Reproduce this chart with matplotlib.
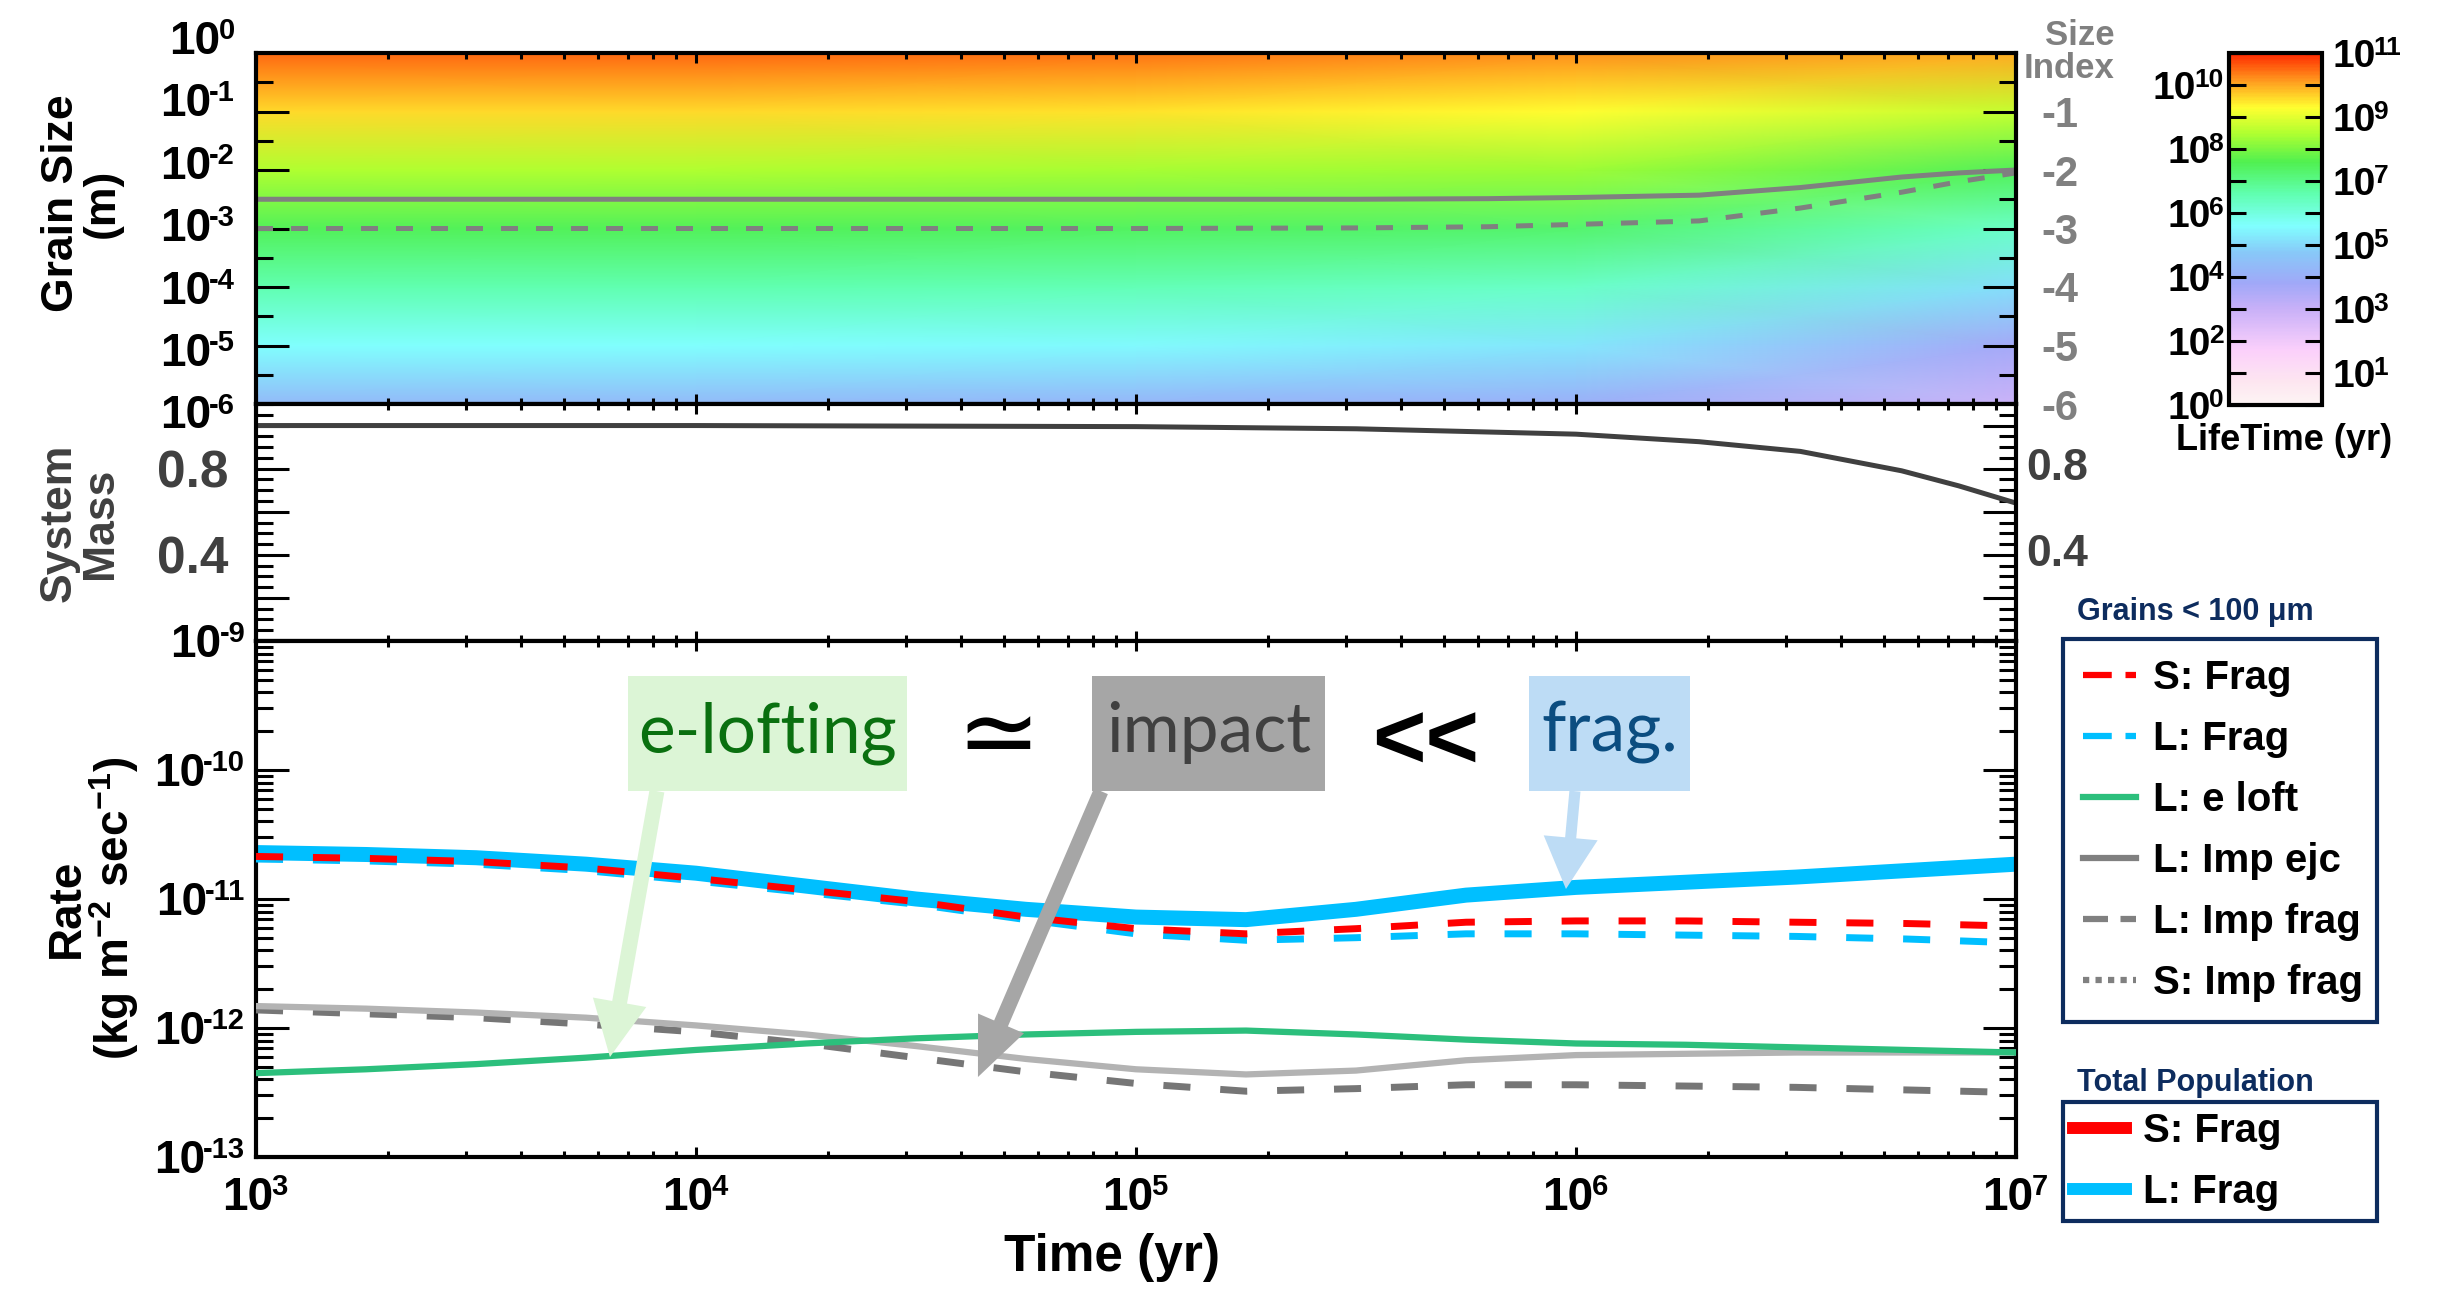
import matplotlib.pyplot as plt
import numpy as np
from matplotlib.colors import LinearSegmentedColormap, Normalize
from matplotlib.lines import Line2D
from matplotlib.patches import Rectangle
from matplotlib.transforms import offset_copy
from matplotlib.ticker import FixedLocator, LogLocator, FuncFormatter, MultipleLocator

plt.rcParams['font.family'] = ['Liberation Sans', 'DejaVu Sans']
plt.rcParams['font.weight'] = 'bold'
plt.rcParams['mathtext.fontset'] = 'custom'
plt.rcParams['mathtext.rm'] = 'Liberation Sans:bold'
plt.rcParams['mathtext.it'] = 'Liberation Sans:bold'
plt.rcParams['mathtext.bf'] = 'Liberation Sans:bold'
plt.rcParams['mathtext.sf'] = 'Liberation Sans:bold'

# ---- values ----
# grain lifetime map, log10(yr), rows = time, cols = size index
map_logt = [3, 4, 5, 6, 7]
map_index = [-6, -5, -4, -3, -2, -1, 0]
map_loglife = [
    [4.3, 5.6, 6.6, 7.5, 8.5, 9.6, 10.5],
    [4.3, 5.6, 6.6, 7.5, 8.5, 9.6, 10.5],
    [4.2, 5.5, 6.5, 7.4, 8.4, 9.5, 10.4],
    [4.0, 5.2, 6.3, 7.3, 8.3, 9.3, 10.2],
    [2.9, 3.7, 5.1, 6.3, 7.5, 8.7, 10.0],
]

size_logt = [3, 4, 5, 5.5, 5.8, 6.0, 6.28, 6.51, 6.74, 6.87, 7.0]
size_large = [-2.5, -2.5, -2.5, -2.5, -2.49, -2.47, -2.43, -2.30, -2.12, -2.05, -2.0]
size_small = [-3.0, -3.0, -3.0, -2.99, -2.97, -2.93, -2.87, -2.65, -2.38, -2.2, -2.05]

mass_logt = [3, 4, 5, 5.5, 6.0, 6.28, 6.51, 6.74, 6.87, 7.0]
mass = [1.0, 1.0, 0.995, 0.985, 0.96, 0.925, 0.88, 0.79, 0.72, 0.64]

rate_logt = [3, 3.25, 3.5, 3.75, 4, 4.25, 4.5, 4.75, 5, 5.25, 5.5, 5.75, 6, 6.25, 6.5, 6.75, 7]
tot_l_frag = [-10.64, -10.655, -10.68, -10.73, -10.80, -10.90, -11.00, -11.08, -11.14, -11.16, -11.08,
              -10.97, -10.91, -10.87, -10.83, -10.78, -10.73]
s_frag = [-10.67, -10.685, -10.71, -10.76, -10.84, -10.93, -11.02, -11.14, -11.23, -11.27, -11.23,
          -11.18, -11.17, -11.17, -11.18, -11.19, -11.21]
l_frag = [-10.69, -10.705, -10.73, -10.78, -10.86, -10.95, -11.04, -11.16, -11.27, -11.32, -11.30,
          -11.27, -11.27, -11.28, -11.29, -11.31, -11.34]
l_eloft = [-12.35, -12.32, -12.28, -12.23, -12.17, -12.12, -12.08, -12.05, -12.03, -12.02, -12.05,
           -12.09, -12.12, -12.13, -12.15, -12.17, -12.19]
l_imp_ejc = [-11.83, -11.85, -11.88, -11.92, -11.98, -12.05, -12.14, -12.24, -12.32, -12.36, -12.33,
             -12.25, -12.21, -12.20, -12.19, -12.19, -12.19]
l_imp_frag = [-11.86, -11.89, -11.92, -11.97, -12.03, -12.12, -12.23, -12.34, -12.43, -12.49, -12.47,
              -12.44, -12.44, -12.45, -12.46, -12.48, -12.50]

size_exps = [0, -1, -2, -3, -4, -5, -6]
time_exps = [3, 4, 5, 6, 7]
rate_exps = [-9, -10, -11, -12, -13]
life_exps = list(range(12))
legend1_labels = ['S: Frag', 'L: Frag', 'L: e loft', 'L: Imp ejc', 'L: Imp frag', 'S: Imp frag']
legend2_labels = ['S: Frag', 'L: Frag']

# colour table of the lifetime bar
cm_pos = [0, 0.7, 1.7, 3.0, 3.8, 4.75, 5.6, 6.6, 7.6, 8.5, 9.3, 10.1, 11]
cm_col = ['#fdf4f4', '#fde6f0', '#fbd0fb', '#c8b0f8', '#a0a8f8', '#88c8f8', '#80ffff',
          '#60ffb0', '#50f050', '#b0ff30', '#ffff30', '#ffa020', '#ff2800']
cmap = LinearSegmentedColormap.from_list('life', list(zip(np.array(cm_pos) / 11, cm_col)))

W, H = 2454, 1291


def box(l, t, r, b):
    return [l / W, 1 - b / H, (r - l) / W, (b - t) / H]


fig = plt.figure(figsize=(24.54, 12.91), dpi=100)
renderer = fig.canvas.get_renderer()
PX = fig.dpi / 72.0


def pow10(ax, x, y, exp, trans, size, sup_size, ha='right', color='black'):
    # "10" with a raised exponent, aligned as one label at (x, y)
    base = ax.text(x, y, '10', transform=trans, fontsize=size, ha='left', va='baseline', color=color, clip_on=False)
    sup = ax.text(x, y, str(exp), transform=trans, fontsize=sup_size, ha='left', va='baseline', color=color,
                  clip_on=False)
    wb = base.get_window_extent(renderer).width
    ws = sup.get_window_extent(renderer).width
    total = wb + ws
    x0 = {'right': -total, 'center': -total / 2, 'left': 0}[ha]
    hb = 0.716 * size * PX
    hs = 0.716 * sup_size * PX
    yb = -hb / 2
    ys = yb + hb - hs + 3
    base.set_transform(offset_copy(trans, fig=fig, x=x0, y=yb, units='dots'))
    sup.set_transform(offset_copy(trans, fig=fig, x=x0 + wb - 2, y=ys, units='dots'))


ax_map = fig.add_axes(box(256, 53, 2016, 404))
ax_mass = fig.add_axes(box(256, 404, 2016, 641))
ax_rate = fig.add_axes(box(256, 641, 2016, 1157))
cax = fig.add_axes(box(2229, 53, 2322, 405))

for ax in (ax_map, ax_mass, ax_rate):
    ax.set_xscale('log')
    ax.set_xlim(1e3, 1e7)
    for s in ax.spines.values():
        s.set_linewidth(3)
    ax.xaxis.set_major_locator(LogLocator(base=10, numticks=10))
    ax.xaxis.set_minor_locator(LogLocator(base=10, subs=np.arange(2, 10), numticks=20))
    ax.tick_params(axis='x', which='major', direction='in', top=True, bottom=True, length=7, width=2.2)
    ax.tick_params(axis='x', which='minor', direction='in', top=True, bottom=True, length=4, width=2.2)
    ax.tick_params(axis='y', which='major', direction='in', left=True, right=True, length=24, width=2.2)
    ax.tick_params(axis='y', which='minor', direction='in', left=True, right=True, length=12, width=2.2)
    ax.tick_params(axis='x', which='both', labelbottom=False)

# ---- top: lifetime map ----
T, I = np.meshgrid(10.0 ** np.array(map_logt), map_index)
mesh = ax_map.pcolormesh(T, I, np.array(map_loglife).T, shading='gouraud', cmap=cmap, norm=Normalize(0, 11))
ax_map.plot(10.0 ** np.array(size_logt), size_large, color='#808080', lw=3.6)
ax_map.plot(10.0 ** np.array(size_logt), size_small, color='#808080', lw=3.6, dashes=(3.4, 3.6))
ax_map.set_ylim(-6, 0)
ax_map.yaxis.set_major_locator(FixedLocator([-6, -5, -4, -3, -2, -1]))
ax_map.yaxis.set_minor_locator(FixedLocator(np.arange(-5.5, 0, 1.0)))
ax_map.yaxis.set_major_formatter(FuncFormatter(lambda v, p: f'{int(round(v))}'))
ax_map.tick_params(labelleft=False, labelright=True)
ax_map.tick_params(axis='y', labelsize=30, labelcolor='#808080', pad=18)
ypos = np.linspace(1.045, -0.023, len(size_exps))
for e, yy in zip(size_exps, ypos):
    pow10(ax_map, -0.011, yy, e, ax_map.transAxes, 33, 21, ha='right')
fig.text(2115 / W, 1 - 52 / H, 'Size\nIndex', ha='right', va='center', fontsize=25,
         color='#808080', linespacing=1.0, multialignment='right')

# ---- colour bar ----
cb = fig.colorbar(mesh, cax=cax)
cb.outline.set_linewidth(3)
cb.set_ticks(life_exps)
cax.minorticks_off()
cax.tick_params(axis='y', which='major', direction='in', left=True, right=True, length=12, width=2.2,
                labelleft=False, labelright=False)
for v in life_exps:
    if v % 2:
        pow10(cax, 1.11, v, v, cax.get_yaxis_transform(), 28, 19, ha='left')
    else:
        pow10(cax, -0.04, v, v, cax.get_yaxis_transform(), 28, 19, ha='right')
fig.text(2284 / W, 1 - 440 / H, 'LifeTime (yr)', ha='center', va='center', fontsize=26)

# ---- middle: system mass ----
ax_mass.plot(10.0 ** np.array(mass_logt), mass, color='#404040', lw=3.6)
ax_mass.set_ylim(0, 1.1)
ax_mass.yaxis.set_major_locator(MultipleLocator(0.2))
ax_mass.yaxis.set_minor_locator(MultipleLocator(0.05))
ax_mass.yaxis.set_major_formatter(FuncFormatter(lambda v, p: f'{v:.1f}' if round(v, 2) in (0.4, 0.8) else ''))
ax_mass.tick_params(axis='y', labelsize=37, labelcolor='#404040', pad=20)
for v in (0.8, 0.4):
    ax_mass.text(1.006, v, f'{v:.1f}', transform=ax_mass.get_yaxis_transform(), ha='left', va='center',
                 fontsize=32, color='#404040')

# ---- bottom: rates ----
t = 10.0 ** np.array(rate_logt)
ax_rate.plot(t, 10.0 ** np.array(tot_l_frag), color='#00bfff', lw=10.8, zorder=2, solid_joinstyle='round')
ax_rate.plot(t, 10.0 ** np.array(l_frag), color='#00bfff', lw=5, dashes=(3.9, 4.3), zorder=3)
ax_rate.plot(t, 10.0 ** np.array(s_frag), color='#ff0000', lw=5, dashes=(3.9, 4.3), zorder=3)
ax_rate.plot(t, 10.0 ** np.array(l_imp_frag), color='#767676', lw=5, dashes=(3.9, 4.3), zorder=3)
ax_rate.plot(t, 10.0 ** np.array(l_imp_ejc), color='#b3b3b3', lw=4.5, zorder=3)
ax_rate.plot(t, 10.0 ** np.array(l_eloft), color='#2cbf7c', lw=4.5, zorder=3)
ax_rate.set_yscale('log')
ax_rate.set_ylim(1e-13, 1e-9)
ax_rate.yaxis.set_major_locator(LogLocator(base=10, numticks=10))
ax_rate.yaxis.set_minor_locator(LogLocator(base=10, subs=np.arange(2, 10), numticks=50))
ax_rate.tick_params(axis='y', which='both', labelleft=False)
for e in rate_exps:
    pow10(ax_rate, -0.005, 10.0 ** e, e, ax_rate.get_yaxis_transform(), 33, 21, ha='right')
for e in time_exps:
    pow10(ax_rate, 10.0 ** e, -0.07, e, ax_rate.get_xaxis_transform(), 33, 21, ha='center')

# annotation boxes and arrows
notes = [
    ('e-lofting', 0.2114, 0.1585, '#dcf5d6', '#0a7010'),
    ('impact', 0.475, 0.1324, '#a6a6a6', '#404040'),
    ('frag.', 0.7233, 0.0915, '#bddcf5', '#0b4d80'),
]
for txt, x0, w, fc, tc in notes:
    ax_rate.add_patch(Rectangle((x0, 0.709), w, 0.223, transform=ax_rate.transAxes, fc=fc, ec='none', zorder=5))
    ax_rate.text(x0 + w / 2, 0.822, txt, transform=ax_rate.transAxes, ha='center', va='center',
                 fontsize=50, color=tc, family=['Lato', 'DejaVu Sans'], fontweight='normal', zorder=7)
ax_rate.text(0.4216, 0.812, '\u2243', transform=ax_rate.transAxes, ha='center', va='center', fontsize=72,
             color='black', family=['DejaVu Sans'], fontweight='normal', zorder=7)
ax_rate.text(0.6648, 0.800, '<<', transform=ax_rate.transAxes, ha='center', va='center', fontsize=66,
             color='black', zorder=7)

arrows = [
    ((0.2278, 0.709), (0.2011, 0.1938), '#dcf5d6', 40, 39, 10.8),
    ((0.4801, 0.709), (0.4102, 0.155), '#a6a6a6', 42, 36, 10.8),
    ((0.7494, 0.709), (0.7443, 0.5194), '#bddcf5', 37, 39, 8),
]
for start, tip, col, hl, hw, tw in arrows:
    ax_rate.annotate('', xy=tip, xytext=start, xycoords='axes fraction', textcoords='axes fraction',
                     arrowprops=dict(arrowstyle=f'simple,head_length={hl},head_width={hw},tail_width={tw}',
                                     mutation_scale=1, shrinkA=0, shrinkB=0, fc=col, ec='none'),
                     zorder=6)

# ---- axis labels ----
fig.text(82 / W, 1 - 203 / H, 'Grain Size\n(m)', rotation=90, ha='center', va='center', fontsize=32,
         linespacing=1.0, multialignment='center')
fig.text(80 / W, 1 - 523 / H, 'System\nMass', rotation=90, ha='center', va='center', fontsize=32,
         linespacing=1.0, multialignment='center', color='#404040')
fig.text(93 / W, 1 - 908 / H, 'Rate\n(kg m$^{-2}$ sec$^{-1}$)', rotation=90, ha='center', va='center',
         fontsize=33, linespacing=0.95, multialignment='center')
fig.text(1112 / W, 1 - 1258 / H, 'Time (yr)', ha='center', va='center', fontsize=37)

# ---- legends ----
navy = '#0d2c5e'
h1 = [Line2D([], [], color='#ff0000', lw=4.5, dashes=(4.6, 2.2)),
      Line2D([], [], color='#00bfff', lw=4.5, dashes=(4.6, 2.2)),
      Line2D([], [], color='#2cbf7c', lw=4.5),
      Line2D([], [], color='#808080', lw=4.5),
      Line2D([], [], color='#808080', lw=4.5, dashes=(4, 2)),
      Line2D([], [], color='#808080', lw=4.5, dashes=(1, 1))]
h2 = [Line2D([], [], color='#ff0000', lw=8.6),
      Line2D([], [], color='#00bfff', lw=8.6)]
common = dict(loc='upper left', mode='expand', borderaxespad=0, fancybox=False, framealpha=1,
              fontsize=29, handlelength=1.31, handletextpad=0.42, labelspacing=0.57)
leg1 = fig.legend(h1, legend1_labels, bbox_to_anchor=(2063 / W, 1 - 1025 / H, 314 / W, 386 / H),
                  borderpad=0.5, **common)
leg2 = fig.legend(h2, legend2_labels, bbox_to_anchor=(2063 / W, 1 - 1226 / H, 314 / W, 124 / H),
                  borderpad=0.25, **common)
for lg in (leg1, leg2):
    lg.get_frame().set_edgecolor(navy)
    lg.get_frame().set_linewidth(3)
fig.text(2077 / W, 1 - 612 / H, 'Grains < 100 \u03bcm', ha='left', va='center', fontsize=22, color=navy)
fig.text(2077 / W, 1 - 1083 / H, 'Total Population', ha='left', va='center', fontsize=22, color=navy)

fig.savefig('out.png', dpi=100)
